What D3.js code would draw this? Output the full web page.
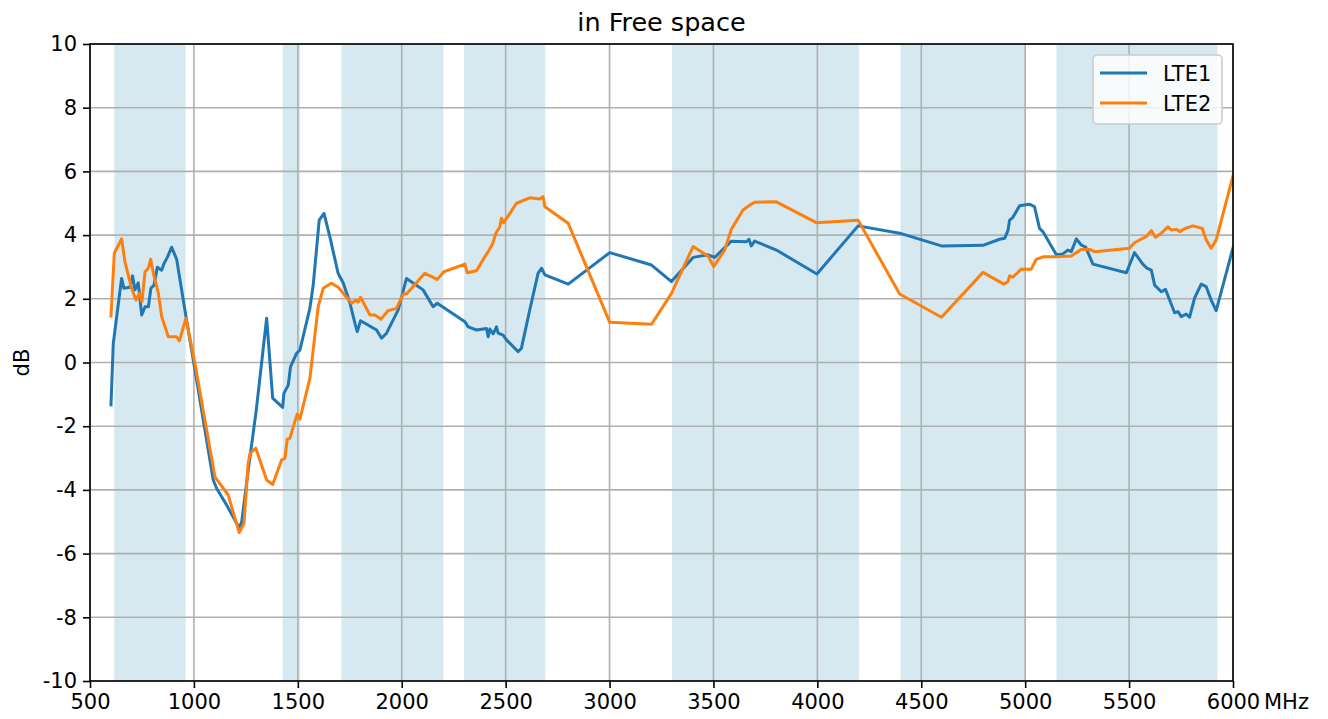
<!DOCTYPE html>
<html>
<head>
<meta charset="utf-8">
<script src="https://cdn.jsdelivr.net/npm/d3@7"></script>
<style>
    body { margin: 0; background: #fff; }
    svg { display: block; font-family: "DejaVu Sans", sans-serif; }
</style>
</head>
<body>
<svg id="chart"></svg>
<script>
// LTE1 measured points (MHz, dB)
const lte1Freq = [601, 612, 652, 663, 692, 705, 716, 732, 749, 765, 781, 793, 808, 824, 845, 856, 872, 893, 917, 962,
    997, 1093, 1109, 1157, 1218, 1230, 1265, 1300, 1350, 1379, 1427, 1433, 1454, 1465, 1494, 1510, 1558, 1574, 1603,
    1626, 1654, 1694, 1719, 1751, 1775, 1786, 1802, 1879, 1903, 1927, 1983, 2023, 2103, 2151, 2171, 2304, 2320, 2360,
    2408, 2416, 2424, 2440, 2456, 2464, 2488, 2504, 2560, 2576, 2616, 2656, 2673, 2689, 2801, 3001, 3202, 3298, 3402,
    3474, 3506, 3586, 3659, 3671, 3682, 3698, 3803, 3998, 4196, 4396, 4597, 4797, 4877, 4901, 4917, 4925, 4941, 4973,
    5021, 5045, 5069, 5085, 5150, 5181, 5205, 5222, 5246, 5270, 5291, 5326, 5487, 5526, 5566, 5586, 5607, 5623, 5655,
    5675, 5719, 5735, 5751, 5775, 5791, 5815, 5847, 5871, 5895, 5919, 6000];
const lte1Db = [-1.33, 0.6, 2.64, 2.33, 2.36, 2.72, 2.28, 2.5, 1.49, 1.75, 1.75, 2.33, 2.43, 2.99, 2.9, 3.11, 3.3, 3.62, 3.24, 1.44,
    0.08, -3.69, -3.95, -4.47, -5.2, -5.0, -3.2, -1.5, 1.39, -1.12, -1.41, -0.97, -0.71, -0.13, 0.29, 0.39, 1.7, 2.43, 4.47,
    4.68, 3.95, 2.8, 2.49, 1.86, 1.23, 0.97, 1.31, 1.02, 0.76, 0.92, 1.65, 2.64, 2.28, 1.75, 1.86, 1.28, 1.12, 1.02,
    1.07, 0.81, 1.05, 0.9, 1.12, 0.92, 0.86, 0.71, 0.34, 0.45, 1.65, 2.8, 2.96, 2.75, 2.46, 3.45, 3.06, 2.54, 3.3,
    3.38, 3.3, 3.81, 3.79, 3.87, 3.66, 3.81, 3.53, 2.78, 4.29, 4.06, 3.66, 3.68, 3.87, 3.9, 4.14, 4.47, 4.56, 4.92,
    4.97, 4.89, 4.21, 4.11, 3.38, 3.41, 3.53, 3.48, 3.88, 3.69, 3.62, 3.09, 2.82, 3.45, 3.09, 2.96, 2.9, 2.43, 2.22,
    2.3, 1.56, 1.6, 1.44, 1.52, 1.42, 2.02, 2.46, 2.38, 1.96, 1.63, 3.6];

// LTE2 measured points (MHz, dB)
const lte2Freq = [601, 617, 652, 668, 700, 721, 737, 750, 765, 781, 792, 805, 829, 845, 877, 917, 930, 962, 1005, 1101,
    1165, 1218, 1241, 1261, 1270, 1298, 1350, 1379, 1422, 1438, 1449, 1462, 1478, 1497, 1510, 1558, 1598, 1622, 1662,
    1694, 1759, 1779, 1790, 1802, 1847, 1871, 1900, 1935, 1975, 2007, 2023, 2111, 2171, 2203, 2304, 2315, 2360, 2400,
    2416, 2437, 2453, 2472, 2480, 2491, 2552, 2616, 2664, 2680, 2689, 2801, 3001, 3202, 3298, 3402, 3474, 3501, 3554,
    3586, 3642, 3674, 3698, 3800, 3995, 4196, 4396, 4597, 4797, 4897, 4917, 4925, 4941, 4981, 5029, 5053, 5089, 5150,
    5222, 5246, 5270, 5310, 5334, 5502, 5526, 5566, 5582, 5607, 5627, 5655, 5687, 5703, 5727, 5743, 5771, 5807, 5852,
    5871, 5895, 5919, 6000];
const lte2Db = [1.46, 3.43, 3.88, 3.17, 2.33, 1.96, 2.17, 1.91, 2.85, 2.96, 3.24, 2.8, 2.17, 1.44, 0.81, 0.81, 0.68, 1.39, -0.03, -3.59,
    -4.16, -5.34, -5.05, -3.17, -2.85, -2.69, -3.69, -3.83, -3.06, -3.01, -2.41, -2.38, -2.02, -1.62, -1.78, -0.5, 1.75, 2.33, 2.49,
    2.36, 1.86, 1.96, 1.9, 2.05, 1.49, 1.49, 1.36, 1.63, 1.7, 2.15, 2.15, 2.8, 2.61, 2.85, 3.09, 2.82, 2.88, 3.32,
    3.48, 3.72, 4.06, 4.26, 4.53, 4.39, 5.0, 5.17, 5.13, 5.21, 4.89, 4.37, 1.26, 1.2, 2.17, 3.64, 3.34, 3.01, 3.53,
    4.18, 4.79, 4.94, 5.03, 5.05, 4.39, 4.47, 2.15, 1.42, 2.83, 2.46, 2.54, 2.72, 2.68, 2.93, 2.93, 3.24, 3.32, 3.32,
    3.34, 3.45, 3.55, 3.55, 3.48, 3.59, 3.76, 3.9, 3.95, 4.14, 3.93, 4.06, 4.26, 4.16, 4.18, 4.11, 4.21, 4.29, 4.21,
    3.85, 3.59, 3.85, 5.86];

// shaded LTE bands (MHz)
const bandStart = [617, 1427, 1710, 2300, 3300, 4400, 5150];
const bandEnd = [960, 1511, 2200, 2690, 4200, 5000, 5925];

const xTicks = [500, 1000, 1500, 2000, 2500, 3000, 3500, 4000, 4500, 5000, 5500, 6000];
const yTicks = [-10, -8, -6, -4, -2, 0, 2, 4, 6, 8, 10];

const seriesNames = ["LTE1", "LTE2"];
const seriesColors = ["#1f77b4", "#ff7f0e"];

class LineChart {

    constructor(_config, _series) {
        this.config = {
            parentElement: _config.parentElement,
            containerWidth: _config.containerWidth || 1328,
            containerHeight: _config.containerHeight || 719,
            margin: _config.margin || { top: 44, right: 95, bottom: 38, left: 90 },
            fontSize: 21,
            titleSize: 25.5,
        };
        this.series = _series;
        this.initVis();
    }

    initVis() {
        const m = this.config.margin;
        this.width = this.config.containerWidth - m.left - m.right;
        this.height = this.config.containerHeight - m.top - m.bottom;

        this.svg = d3.select(this.config.parentElement)
            .attr("width", this.config.containerWidth)
            .attr("height", this.config.containerHeight);

        this.chart = this.svg.append("g")
            .attr("transform", `translate(${m.left}, ${m.top})`);

        this.xScale = d3.scaleLinear().domain([500, 6000]).range([0, this.width]);
        this.yScale = d3.scaleLinear().domain([-10, 10]).range([this.height, 0]);

        this.svg.append("defs").append("clipPath")
            .attr("id", "plot-clip")
            .append("rect")
            .attr("width", this.width)
            .attr("height", this.height);

        this.renderVis();
    }

    renderVis() {
        const x = this.xScale, y = this.yScale;
        const fs = this.config.fontSize;

        // bands
        this.chart.selectAll(".band")
            .data(d3.zip(bandStart, bandEnd))
            .join("rect")
            .attr("class", "band")
            .attr("x", (d) => x(d[0]))
            .attr("width", (d) => x(d[1]) - x(d[0]))
            .attr("y", 0)
            .attr("height", this.height)
            .attr("fill", "#d6e9f0");

        // grid
        this.chart.append("g")
            .selectAll("line")
            .data(xTicks)
            .join("line")
            .attr("x1", (d) => x(d)).attr("x2", (d) => x(d))
            .attr("y1", 0).attr("y2", this.height)
            .attr("stroke", "#b0b0b0").attr("stroke-width", 1.6);

        this.chart.append("g")
            .selectAll("line")
            .data(yTicks)
            .join("line")
            .attr("y1", (d) => y(d)).attr("y2", (d) => y(d))
            .attr("x1", 0).attr("x2", this.width)
            .attr("stroke", "#b0b0b0").attr("stroke-width", 1.6);

        // lines
        const line = d3.line()
            .x((d) => x(d[0]))
            .y((d) => y(d[1]));

        this.chart.append("g")
            .attr("clip-path", "url(#plot-clip)")
            .selectAll("path")
            .data(this.series)
            .join("path")
            .attr("d", (d) => line(d.points))
            .attr("fill", "none")
            .attr("stroke", (d) => d.color)
            .attr("stroke-width", 3)
            .attr("stroke-linejoin", "round")
            .attr("stroke-linecap", "square");

        // axes
        const xAxis = d3.axisBottom(x).tickValues(xTicks).tickSize(7).tickPadding(6).tickFormat(d3.format("d"));
        const yAxis = d3.axisLeft(y).tickValues(yTicks).tickSize(7).tickPadding(6).tickFormat(d3.format("d"));

        const gx = this.chart.append("g")
            .attr("transform", `translate(0, ${this.height})`)
            .call(xAxis);
        const gy = this.chart.append("g").call(yAxis);

        [gx, gy].forEach((g) => {
            g.select(".domain").remove();
            g.selectAll(".tick line").attr("stroke", "#000").attr("stroke-width", 1.6);
            g.selectAll(".tick text")
                .attr("fill", "#000")
                .style("font-size", `${fs}px`)
                .style("font-family", "DejaVu Sans");
        });
        gy.selectAll(".tick text").text((d) => d < 0 ? `-${Math.abs(d)}` : d);

        // frame
        this.chart.append("rect")
            .attr("width", this.width)
            .attr("height", this.height)
            .attr("fill", "none")
            .attr("stroke", "#000")
            .attr("stroke-width", 1.6);

        // unit after last x tick
        this.chart.append("text")
            .attr("x", x(6000) + 31)
            .attr("y", this.height + 13)
            .attr("dy", "0.71em")
            .style("font-size", `${fs}px`)
            .text("MHz");

        // y label
        this.svg.append("text")
            .attr("transform", `translate(28.5, ${this.config.margin.top + y(0)}) rotate(-90)`)
            .attr("text-anchor", "middle")
            .style("font-size", `${fs}px`)
            .text("dB");

        // title
        this.svg.append("text")
            .attr("x", this.config.margin.left + this.width / 2)
            .attr("y", 31)
            .attr("text-anchor", "middle")
            .style("font-size", `${this.config.titleSize}px`)
            .text("in Free space");

        // legend
        const legend = this.chart.append("g")
            .attr("transform", `translate(${this.width - 140}, 11)`);

        legend.append("rect")
            .attr("width", 129)
            .attr("height", 69)
            .attr("rx", 4)
            .attr("fill", "#fff")
            .attr("fill-opacity", 0.8)
            .attr("stroke", "#cccccc")
            .attr("stroke-width", 1.6);

        const items = legend.selectAll(".item")
            .data(this.series)
            .join("g")
            .attr("class", "item")
            .attr("transform", (d, i) => `translate(7, ${18 + i * 30})`);

        items.append("line")
            .attr("x1", 0).attr("x2", 47)
            .attr("stroke", (d) => d.color)
            .attr("stroke-width", 3);

        items.append("text")
            .attr("x", 63)
            .attr("y", 7.5)
            .style("font-size", `${fs}px`)
            .text((d) => d.name);
    }
}

const series = [
    { name: seriesNames[0], color: seriesColors[0], points: d3.zip(lte1Freq, lte1Db) },
    { name: seriesNames[1], color: seriesColors[1], points: d3.zip(lte2Freq, lte2Db) },
];

new LineChart({ parentElement: "#chart" }, series);
</script>
</body>
</html>
